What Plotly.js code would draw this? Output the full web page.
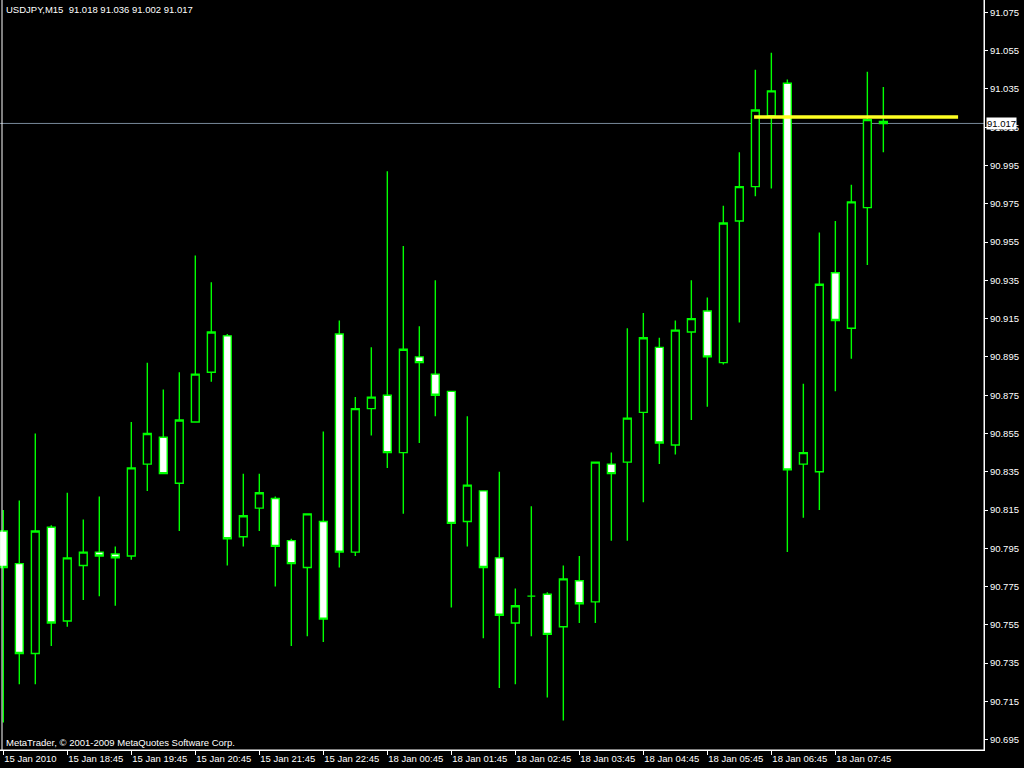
<!DOCTYPE html>
<html><head><meta charset="utf-8">
<script src="https://cdn.plot.ly/plotly-3.0.1.min.js"></script>
<style>html,body{margin:0;padding:0;background:#000;}#chart{width:1024px;height:768px;}</style>
</head><body><div id="chart"></div>
<script>
// M15 bar times (15 Jan 2010 Friday -> 18 Jan 2010 Monday)
const times = [
 "15 Jan 17:45","15 Jan 18:00","15 Jan 18:15","15 Jan 18:30","15 Jan 18:45","15 Jan 19:00","15 Jan 19:15","15 Jan 19:30",
 "15 Jan 19:45","15 Jan 20:00","15 Jan 20:15","15 Jan 20:30","15 Jan 20:45","15 Jan 21:00","15 Jan 21:15","15 Jan 21:30",
 "15 Jan 21:45","15 Jan 22:00","15 Jan 22:15","15 Jan 22:30","15 Jan 22:45",
 "18 Jan 00:00","18 Jan 00:15","18 Jan 00:30","18 Jan 00:45","18 Jan 01:00","18 Jan 01:15","18 Jan 01:30","18 Jan 01:45",
 "18 Jan 02:00","18 Jan 02:15","18 Jan 02:30","18 Jan 02:45","18 Jan 03:00","18 Jan 03:15","18 Jan 03:30","18 Jan 03:45",
 "18 Jan 04:00","18 Jan 04:15","18 Jan 04:30","18 Jan 04:45","18 Jan 05:00","18 Jan 05:15","18 Jan 05:30","18 Jan 05:45",
 "18 Jan 06:00","18 Jan 06:15","18 Jan 06:30","18 Jan 06:45","18 Jan 07:00","18 Jan 07:15","18 Jan 07:30","18 Jan 07:45",
 "18 Jan 08:00","18 Jan 08:15","18 Jan 08:30"
];
const openP = [90.804,90.787,90.740,90.806,90.757,90.786,90.793,90.792,90.791,90.839,90.853,90.829,90.861,90.887,90.906,90.801,
 90.816,90.821,90.799,90.785,90.809,90.907,90.793,90.868,90.875,90.845,90.895,90.886,90.877,90.809,90.825,90.790,90.756,90.770,
 90.771,90.754,90.778,90.767,90.839,90.840,90.866,90.900,90.849,90.908,90.919,90.892,90.966,90.984,91.021,91.038,90.839,90.835,
 90.939,90.910,90.973,91.018];
const highP = [90.815,90.820,90.855,90.807,90.824,90.810,90.822,90.796,90.861,90.892,90.878,90.887,90.948,90.934,90.907,90.834,
 90.834,90.822,90.800,90.813,90.856,90.914,90.874,90.900,90.992,90.953,90.911,90.935,90.877,90.864,90.825,90.835,90.774,90.817,
 90.772,90.786,90.791,90.840,90.845,90.910,90.918,90.905,90.914,90.935,90.926,90.974,91.002,91.045,91.054,91.040,90.881,90.960,
 90.966,90.985,91.044,91.036];
const lowP = [90.704,90.724,90.724,90.744,90.754,90.768,90.770,90.765,90.789,90.825,90.834,90.804,90.861,90.882,90.786,90.796,
 90.804,90.775,90.744,90.749,90.746,90.785,90.791,90.854,90.837,90.813,90.850,90.864,90.764,90.796,90.748,90.722,90.724,90.749,
 90.717,90.705,90.756,90.756,90.799,90.799,90.819,90.839,90.844,90.862,90.869,90.891,90.913,90.979,90.983,90.793,90.811,90.815,
 90.877,90.894,90.943,91.002];
const closeP = [90.785,90.740,90.804,90.756,90.790,90.793,90.791,90.790,90.837,90.855,90.834,90.862,90.886,90.908,90.800,90.812,
 90.824,90.796,90.787,90.813,90.758,90.793,90.868,90.874,90.845,90.899,90.892,90.875,90.808,90.828,90.785,90.760,90.765,90.770,
 90.750,90.779,90.766,90.840,90.834,90.863,90.905,90.850,90.909,90.915,90.895,90.965,90.984,91.024,91.034,90.836,90.845,90.933,
 90.914,90.976,91.019,91.017];

const tickBars = ["15 Jan 17:45","15 Jan 18:45","15 Jan 19:45","15 Jan 20:45","15 Jan 21:45","15 Jan 22:45","18 Jan 00:45",
 "18 Jan 01:45","18 Jan 02:45","18 Jan 03:45","18 Jan 04:45","18 Jan 05:45","18 Jan 06:45","18 Jan 07:45"];
const tickLabels = ["15 Jan 2010","15 Jan 18:45","15 Jan 19:45","15 Jan 20:45","15 Jan 21:45","15 Jan 22:45","18 Jan 00:45",
 "18 Jan 01:45","18 Jan 02:45","18 Jan 03:45","18 Jan 04:45","18 Jan 05:45","18 Jan 06:45","18 Jan 07:45"];

const symbol = "USDJPY,M15";
const copyright = "MetaTrader, \u00a9 2001-2009 MetaQuotes Software Corp.";
const levelPrice = 91.0204;      // yellow horizontal line object
const levelStartBar = 46.92, levelEndBar = 59.67;

const last = times.length - 1;
const lastPrice = closeP[last];
const FONT = "Liberation Sans, Arial, sans-serif";
const GREEN = "#00ff00";

const trace = {
  type: "candlestick",
  x: times, open: openP, high: highP, low: lowP, close: closeP,
  increasing: {line: {color: GREEN, width: 1.4}, fillcolor: "#000000"},
  decreasing: {line: {color: GREEN, width: 1.4}, fillcolor: "#ffffff"},
  whiskerwidth: 0,
  hoverinfo: "skip",
  showlegend: false
};

const header = symbol + "\u00a0\u00a0" + [openP[last], highP[last], lowP[last], closeP[last]].map(v => v.toFixed(3)).join(" ");

const layout = {
  width: 1024, height: 768,
  margin: {l: 0, r: 40, t: 0, b: 18, pad: 0},
  paper_bgcolor: "#000000", plot_bgcolor: "#000000",
  showlegend: false,
  font: {family: FONT, size: 9.5, color: "#ffffff"},
  xaxis: {
    type: "category", categoryorder: "array", categoryarray: times,
    range: [-0.206, 61.29], fixedrange: true, automargin: false,
    rangeslider: {visible: false},
    tickmode: "array", tickvals: tickBars, ticktext: tickLabels,
    ticks: "outside", ticklen: 4, tickcolor: "#ffffff", tickwidth: 1,
    ticklabelposition: "outside right",
    showline: true, linecolor: "#ffffff", linewidth: 1,
    showgrid: false, zeroline: false,
    tickfont: {family: FONT, size: 9.5, color: "#ffffff"}
  },
  yaxis: {
    side: "right", range: [90.6896, 91.0815], fixedrange: true, automargin: false,
    tickmode: "linear", tick0: 90.695, dtick: 0.02, tickformat: ".3f",
    ticks: "outside", ticklen: 3, tickcolor: "#ffffff", tickwidth: 1,
    showline: true, linecolor: "#ffffff", linewidth: 1,
    showgrid: false, zeroline: false,
    tickfont: {family: FONT, size: 9.5, color: "#ffffff"}
  },
  shapes: [
    {type: "line", xref: "paper", yref: "y", x0: 0, x1: 1, y0: lastPrice, y1: lastPrice,
     line: {color: "#778899", width: 1}, layer: "below"},
    {type: "line", xref: "x", yref: "y", x0: levelStartBar, x1: levelEndBar, y0: levelPrice, y1: levelPrice,
     line: {color: "#ffff22", width: 3.5}, layer: "above"},
    // chart frame: left, bottom, right
    {type: "line", xref: "paper", yref: "paper", x0: 2/984, x1: 2/984, y0: 0, y1: 1,
     line: {color: "#ffffff", width: 1}},
    {type: "line", xref: "paper", yref: "paper", x0: 0, x1: 1, y0: 0, y1: 0,
     line: {color: "#ffffff", width: 1}},
    {type: "line", xref: "paper", yref: "paper", x0: 1, x1: 1, y0: 0, y1: 1,
     line: {color: "#ffffff", width: 1}}
  ],
  annotations: [
    {xref: "paper", yref: "paper", x: 4/984, y: 1 - 10/750, xanchor: "left", yanchor: "middle",
     text: header, showarrow: false, font: {family: FONT, size: 9.5, color: "#ffffff"}},
    {xref: "paper", yref: "paper", x: 4/984, y: 8/750, xanchor: "left", yanchor: "middle",
     text: copyright, showarrow: false, font: {family: FONT, size: 9.5, color: "#ffffff"}},
    {xref: "paper", yref: "y", x: 1, y: lastPrice, xanchor: "left", yanchor: "middle", xshift: 2,
     text: lastPrice.toFixed(3), showarrow: false, bgcolor: "#ffffff", borderpad: 0,
     font: {family: FONT, size: 9.5, color: "#000000"}}
  ]
};

Plotly.newPlot("chart", [trace], layout, {displayModeBar: false, staticPlot: true});
</script>
</body></html>
